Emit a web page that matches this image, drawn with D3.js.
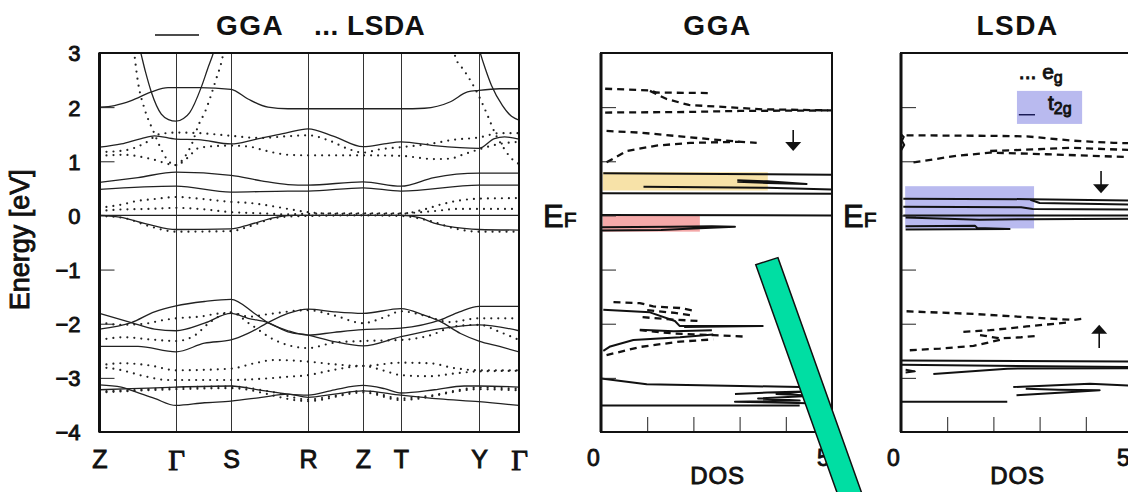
<!DOCTYPE html>
<html>
<head>
<meta charset="utf-8">
<script src="https://cdn.jsdelivr.net/npm/d3@7"></script>
<style>
  body { margin: 0; background: #fff; }
  svg { display: block; font-family: "Liberation Sans", Arial, Helvetica, sans-serif; }
  .frame { fill: none; stroke: #111; stroke-width: 2; }
  .band { fill: none; stroke: #222; stroke-width: 1.3; }
  .lsda { fill: none; stroke: #222; stroke-width: 2.2; stroke-dasharray: 0 7; stroke-linecap: round; }
  .dos-t2g { fill: none; stroke: #111; stroke-width: 2; stroke-linejoin: round; }
  .dos-eg { fill: none; stroke: #111; stroke-width: 2.3; stroke-dasharray: 7 5; }
  .lbl { fill: #111; stroke: #111; stroke-width: 0.9; }
  .ttl { fill: #111; font-weight: bold; letter-spacing: 1.5px; }
</style>
</head>
<body>
<svg id="chart" width="1128" height="492"></svg>
<script>
// k-path (arbitrary path length units) and labels
const kLabels = ["Z", "Γ", "S", "R", "Z", "T", "Y", "Γ"];
const kNodes = [0, 76.5, 131.5, 208.5, 263.5, 301.5, 379.5, 419.5];
const energyTicks = [-4, -3, -2, -1, 0, 1, 2, 3];
const dosTicks = [1, 2, 3, 4];
const dosLabels = [0, 5];

// GGA bands (solid), [k, E]
const ggaBands = [
  [[36,3.35],[40.2,3.08],[46,2.65],[51.8,2.28],[61.8,1.87],[69,1.77],[76.5,1.74],[84,1.79],[90.2,1.9],[101.8,2.37],[108,2.7],[115.2,3.08],[119,3.35]],
  [[377,3.25],[379.5,3.08],[386,2.7],[392,2.4],[403,2.03],[412,1.83],[419.5,1.76]],
  [[0,2.0],[15,2.03],[31.8,2.12],[51.8,2.28],[68.5,2.36],[76.5,2.36],[100,2.36],[131.5,2.33],[148.5,2.15],[168.5,2.0],[188.5,1.97],[208.5,1.97],[263.5,1.97],[301.5,1.97],[325,1.98],[351,2.1],[368,2.28],[379.5,2.31],[400,2.34],[419.5,2.34]],
  [[0,1.26],[21.8,1.32],[41.8,1.42],[55,1.47],[76.5,1.41],[98.5,1.4],[131.5,1.32],[155,1.4],[186,1.52],[208.5,1.6],[234.5,1.46],[263.5,1.27],[284.5,1.32],[301.5,1.36],[334.5,1.29],[379.5,1.24],[395,1.42],[405,1.45],[419.5,1.41]],
  [[0,0.61],[38.5,0.7],[76.5,0.8],[131.5,0.74],[161.8,0.64],[188.5,0.57],[208.5,0.56],[263.5,0.62],[301.5,0.54],[334.5,0.7],[379.5,0.78],[419.5,0.78]],
  [[0,0.48],[76.5,0.54],[131.5,0.43],[188.5,0.45],[208.5,0.45],[263.5,0.51],[301.5,0.45],[379.5,0.56],[419.5,0.56]],
  [[0,0],[419.5,0]],
  [[0,0],[20,-0.03],[50,-0.17],[76.5,-0.26],[131.5,-0.25],[150,-0.17],[175,-0.04],[192,0],[301.5,0],[320,-0.04],[334.5,-0.14],[364.5,-0.24],[379.5,-0.26],[419.5,-0.27]],
  [[0,-1.81],[31.8,-1.98],[55,-2.1],[76.5,-2.13],[105,-1.99],[131.5,-1.81],[148.5,-1.9],[168.5,-1.98],[188.5,-2.15],[208.5,-2.21],[234.5,-2.33],[263.5,-2.41],[301.5,-2.24],[341,-2.09],[379.5,-2.02],[419.5,-2.13]],
  [[0,-2.1],[31.8,-1.98],[55,-1.78],[76.5,-1.67],[105,-1.59],[131.5,-1.55],[155,-1.81],[168.5,-1.98],[188.5,-2.13],[208.5,-2.21],[234.5,-2.16],[263.5,-2.11],[301.5,-2.08],[341,-1.93],[360,-1.78],[379.5,-1.68],[419.5,-1.68]],
  [[0,-2.42],[38.5,-2.42],[76.5,-2.52],[105,-2.36],[131.5,-2.3],[148.5,-2.18],[168.5,-1.98],[188.5,-1.81],[208.5,-1.73],[234.5,-1.78],[263.5,-1.81],[301.5,-1.72],[324.5,-1.84],[341,-1.96],[361,-2.18],[379.5,-2.32],[400,-2.42],[419.5,-2.52]],
  [[0,-3.13],[21.8,-3.17],[31.8,-3.23],[55,-3.38],[76.5,-3.51],[105,-3.46],[131.5,-3.43],[162,-3.36],[188.5,-3.3],[208.5,-3.36],[235,-3.3],[263.5,-3.24],[301.5,-3.32],[340,-3.39],[379.5,-3.44],[419.5,-3.51]],
  [[0,-3.22],[31.8,-3.2],[76.5,-3.17],[131.5,-3.15],[162,-3.23],[188.5,-3.3],[208.5,-3.32],[235,-3.22],[263.5,-3.14],[285,-3.2],[301.5,-3.28],[335,-3.22],[364.5,-3.15],[379.5,-3.15],[419.5,-3.17]]
];

// LSDA bands (dotted), [k, E]
const lsdaBands = [
  [[0,1.17],[25,1.2],[45,1.33],[60,1.5],[76.5,1.53],[100,1.52],[131.5,1.47],[160,1.43],[186,1.46],[208.5,1.48],[230,1.38],[250,1.22],[263.5,1.16],[280,1.22],[301.5,1.26],[330,1.32],[355,1.4],[379.5,1.44],[400,1.52],[419.5,1.52]],
  [[0,1.1],[25,1.12],[50,1.05],[76.5,0.93],[88.5,1.07],[98.5,1.24],[115,1.28],[131.5,1.29],[150,1.27],[165,1.2],[188.5,1.12],[208.5,1.11],[263.5,1.11],[301.5,1.1],[334.5,1.04],[351,1.05],[364.5,1.13],[379.5,1.22],[400,1.32],[419.5,1.36]],
  [[33,3.3],[38.5,2.46],[45,1.97],[54,1.55],[61.8,1.22],[68.5,1.01],[76.5,0.93],[84,1.05],[93,1.35],[98.6,1.65],[105.7,1.92],[111,2.19],[116.5,2.51],[121.9,2.83],[126,3.2]],
  [[352,3.2],[356,2.92],[364.5,2.68],[371,2.49],[379.5,2.2],[388,1.85],[396,1.5],[404,1.25],[412,1.05],[419.5,0.95]],
  [[0,0.14],[21.8,0.2],[38.5,0.27],[53.5,0.3],[76.5,0.34],[105,0.3],[131.5,0.25],[150,0.23],[170,0.18],[188.5,0.12],[208.5,0.06],[240,0.03],[263.5,0.03],[301.5,0.03],[324.5,0.11],[341,0.2],[358,0.27],[379.5,0.31],[419.5,0.32]],
  [[0,0.08],[21.8,0.11],[50,0.12],[76.5,0.14],[100,0.12],[131.5,0.06],[160,0.04],[188.5,0.02],[208.5,0.03],[263.5,0.04],[301.5,0.04],[334.5,0.08],[358,0.12],[379.5,0.12],[419.5,0.12]],
  [[0,-0.01],[25,-0.05],[50,-0.2],[76.5,-0.3],[131.5,-0.29],[150,-0.2],[175,-0.05],[190,-0.02],[208.5,-0.01],[263.5,0],[301.5,-0.01],[330,-0.1],[355,-0.24],[379.5,-0.3],[419.5,-0.3]],
  [[0,-1.97],[20,-2.02],[45,-2.0],[65,-1.93],[76.5,-1.9],[100,-1.87],[120,-1.81],[131.5,-1.8],[150,-1.87],[170,-1.82],[208.5,-1.75],[235,-1.85],[263.5,-1.99],[285,-1.88],[301.5,-1.77],[325,-1.85],[350,-1.97],[379.5,-1.9],[419.5,-1.9]],
  [[0,-2.3],[25,-2.25],[50,-2.29],[76.5,-2.32],[95,-2.22],[110,-1.98],[131.5,-1.79],[150,-2.0],[175,-2.3],[208.5,-2.45],[235,-2.35],[263.5,-2.32],[301.5,-2.3],[330,-2.22],[355,-2.05],[379.5,-2.02],[400,-2.15],[419.5,-2.3]],
  [[0,-2.77],[22,-2.73],[50,-2.77],[76.5,-2.86],[131.5,-2.83],[155,-2.73],[175,-2.67],[208.5,-2.7],[235,-2.75],[263.5,-2.78],[301.5,-2.72],[330,-2.73],[355,-2.82],[379.5,-2.86],[419.5,-2.86]],
  [[0,-2.8],[20,-2.85],[45,-2.97],[68.5,-3.04],[131.5,-3.04],[160,-3.02],[188.5,-2.98],[208.5,-2.95],[235,-2.85],[263.5,-2.78],[285,-2.87],[301.5,-2.95],[330,-2.97],[355,-2.92],[379.5,-2.88],[419.5,-2.87]],
  [[0,-3.25],[30,-3.23],[76.5,-3.18],[131.5,-3.16],[170,-3.25],[208.5,-3.4],[235,-3.33],[263.5,-3.24],[301.5,-3.38],[330,-3.33],[379.5,-3.18],[419.5,-3.2]],
  [[0,-3.27],[76.5,-3.21],[131.5,-3.19],[208.5,-3.43],[263.5,-3.27],[301.5,-3.41],[379.5,-3.21],[419.5,-3.23]]
];

// GGA DOS traces, [dos, E]
const ggaDownEg = [
  [[0.09,2.34],[1.06,2.31],[1.2,2.27],[2.36,2.26]],
  [[1.06,2.3],[1.42,2.15],[1.9,2.04],[2.72,2.0],[3.5,1.96],[5.0,1.94]],
  [[0.09,1.9],[1.8,1.91],[3.0,1.93],[5.0,1.94]],
  [[0.12,1.56],[0.84,1.53],[1.71,1.46],[2.72,1.38],[3.37,1.34]],
  [[0.12,0.98],[0.56,1.19],[1.2,1.29],[1.93,1.34],[3.0,1.36]]
];
const ggaDownT2g = [
  [[0.05,0.78],[3.6,0.76],[5,0.75]],
  [[2.95,0.65],[3.6,0.63],[4.45,0.58],[3.6,0.6],[2.95,0.62]],
  [[0.92,0.53],[3.6,0.51],[5,0.48]],
  [[0,0.41],[5,0.4]],
  [[0,0.01],[5,0.0]],
  [[0,-0.22],[1.5,-0.21],[2.4,-0.2],[2.9,-0.21],[2.0,-0.24],[1.3,-0.27],[0,-0.28]]
];
const ggaUpEg = [
  [[0.27,-1.6],[0.84,-1.62],[1.13,-1.68],[1.71,-1.71],[2.07,-1.77]],
  [[1.0,-1.75],[1.6,-1.8],[2.0,-1.85]],
  [[0.9,-1.88],[1.5,-1.92],[2.1,-1.95]],
  [[0.84,-2.12],[1.57,-2.18],[2.43,-2.21],[3.15,-2.24]],
  [[0.12,-2.58],[0.84,-2.43],[1.71,-2.33],[2.43,-2.29]]
];
const ggaUpT2g = [
  [[0.05,-1.74],[1.06,-1.79],[1.6,-1.95],[1.7,-2.04],[3.5,-2.04],[1.8,-2.06]],
  [[0.84,-2.11],[1.57,-2.14],[2.4,-2.12]],
  [[0.05,-2.5],[0.2,-2.42],[0.7,-2.3],[1.71,-2.25],[2.43,-2.2]],
  [[0,-3.01],[0.99,-3.12],[3.01,-3.15],[4.31,-3.17]],
  [[2.9,-3.3],[3.6,-3.27],[4.4,-3.25],[3.8,-3.3],[4.6,-3.33],[3.4,-3.38],[4.3,-3.42],[2.9,-3.44],[4.5,-3.47]],
  [[0,-3.51],[4.3,-3.51]]
];

// LSDA DOS traces, [dos, E]
const lsdaDownEg = [
  [[0.12,1.48],[1.93,1.47],[2.72,1.46],[3.73,1.38],[4.6,1.34],[5.2,1.33]],
  [[0.27,0.98],[1.2,1.1],[1.93,1.16],[3.15,1.13],[5.2,1.07]],
  [[1.93,1.19],[2.9,1.22],[3.7,1.25],[5.2,1.2]]
];
const lsdaDownT2g = [
  [[0.05,0.31],[2.8,0.3],[5.2,0.27]],
  [[2.8,0.29],[3.0,0.23],[5.2,0.2]],
  [[0.05,0.16],[2.6,0.15],[2.85,0.12],[5.2,0.11]],
  [[0.05,0.0],[5.2,0.0]],
  [[0.1,-0.04],[1.7,-0.08],[2.8,-0.07],[5.2,-0.06]],
  [[0.1,-0.2],[1.6,-0.19],[1.65,-0.23],[2.35,-0.25],[0.1,-0.26]],
  [[0,1.5],[0.06,1.45],[0.02,1.38],[0.07,1.3],[0,1.2]]
];
const lsdaUpEg = [
  [[0.12,-1.77],[1.57,-1.82],[2.72,-1.88],[3.73,-1.93],[4.0,-1.9]],
  [[1.35,-2.15],[1.93,-2.12],[2.72,-2.05],[3.59,-1.98]],
  [[1.71,-2.21],[2.14,-2.27],[2.6,-2.25],[3.0,-2.22]],
  [[0.19,-2.49],[0.84,-2.46],[1.57,-2.41],[2.14,-2.3]]
];
const lsdaUpT2g = [
  [[0,-2.68],[5.2,-2.7]],
  [[0,-2.76],[5.2,-2.8]],
  [[0.1,-2.85],[0.3,-2.88],[0.1,-2.9]],
  [[0.7,-2.93],[2.3,-2.83],[5.2,-2.82]],
  [[2.43,-3.17],[4.09,-3.11],[5.2,-3.15]],
  [[2.5,-3.32],[3.7,-3.26],[4.3,-3.23],[3.4,-3.22],[2.7,-3.2]],
  [[0,-3.44],[2.3,-3.44]]
];

// annotations, in DOS / energy units
const spinArrows = [
  { panel: "gga", dos: 4.16, from: 1.58, to: 1.19 },
  { panel: "lsda", dos: 4.33, from: 0.82, to: 0.41 },
  { panel: "lsda", dos: 4.29, from: -2.45, to: -2.02 }
];
const highlights = [
  { panel: "gga", dos: [0.04, 3.61], e: [0.46, 0.8], color: "#f2cf6e", op: 0.6 },
  { panel: "gga", dos: [0.04, 2.14], e: [-0.3, 0.02], color: "#ef7b7b", op: 0.65 },
  { panel: "lsda", dos: [0.09, 2.88], e: [-0.24, 0.54], color: "#7f82e2", op: 0.55 },
  { panel: "lsda", dos: [2.51, 3.92], e: [1.69, 2.3], color: "#7f82e2", op: 0.55 }
];
const greenBar = [[3.35, -0.91], [3.83, -0.78], [5.84, -5.6], [5.31, -5.6]];

const svg = d3.select("#chart");

const k = d3.scaleLinear().domain([0, 419.5]).range([99.5, 519]);
const y = d3.scaleLinear().domain([-4, 3]).range([432, 53]);
const xDos = {
  gga: d3.scaleLinear().domain([0, 5]).range([601, 832]),
  lsda: d3.scaleLinear().domain([0, 5]).range([901, 1132])
};

const defs = svg.append("defs");
defs.append("clipPath").attr("id", "clipBand").append("rect")
  .attr("x", k(0)).attr("y", y(3)).attr("width", k(419.5) - k(0)).attr("height", y(-4) - y(3));
["gga", "lsda"].forEach(p => {
  defs.append("clipPath").attr("id", "clip-" + p).append("rect")
    .attr("x", xDos[p](0)).attr("y", y(3)).attr("width", xDos[p](5) - xDos[p](0)).attr("height", y(-4) - y(3));
});

// ---- band structure panel ----
const bandG = svg.append("g");

// vertical lines at high-symmetry points
bandG.append("g")
  .attr("transform", `translate(0,${y(-4)})`)
  .call(d3.axisBottom(k).tickValues(kNodes.slice(1, -1)).tickSize(-(y(-4) - y(3))).tickFormat(""))
  .call(g => g.select(".domain").remove())
  .call(g => g.selectAll("line").attr("stroke", "#333").attr("stroke-width", 1));

// k labels
bandG.append("g")
  .attr("transform", `translate(0,${y(-4)})`)
  .call(d3.axisBottom(k).tickValues(kNodes).tickSize(0).tickPadding(18).tickFormat((d, i) => kLabels[i]))
  .call(g => g.select(".domain").remove())
  .call(g => g.selectAll("text")
    .attr("class", "lbl")
    .attr("font-family", (d, i) => kLabels[i] === "Γ" ? "'Liberation Serif', 'DejaVu Serif', serif" : null)
    .attr("font-size", (d, i) => kLabels[i] === "Γ" ? 29 : 25)
    .attr("dy", (d, i) => kLabels[i] === "Γ" ? "0.68em" : "0.71em"));

// energy ticks inside + labels
bandG.append("g")
  .attr("transform", `translate(${k(0)},0)`)
  .call(d3.axisRight(y).tickValues(energyTicks).tickSize(15).tickFormat(""))
  .call(g => g.select(".domain").remove())
  .call(g => g.selectAll("line").attr("stroke", "#222").attr("stroke-width", 1));
bandG.append("g")
  .attr("transform", `translate(${k(0)},0)`)
  .call(d3.axisLeft(y).tickValues(energyTicks).tickSize(0).tickPadding(19).tickFormat(d3.format("d")))
  .call(g => g.select(".domain").remove())
  .call(g => g.selectAll("text").attr("class", "lbl").attr("font-size", 22).attr("dy", "0.36em"));

svg.append("text")
  .attr("class", "lbl")
  .attr("transform", `translate(29,${y(-0.45)}) rotate(-90)`)
  .attr("text-anchor", "middle")
  .attr("font-size", 27)
  .attr("stroke-width", 0.5)
  .text("Energy [eV]");

const bandLine = d3.line().x(d => k(d[0])).y(d => y(d[1])).curve(d3.curveMonotoneX);
const bandsClip = bandG.append("g").attr("clip-path", "url(#clipBand)");
bandsClip.selectAll("path.band").data(ggaBands).join("path").attr("class", "band").attr("d", bandLine);
bandsClip.selectAll("path.lsda").data(lsdaBands).join("path").attr("class", "lsda").attr("d", bandLine);

bandG.append("rect").attr("class", "frame")
  .attr("x", k(0)).attr("y", y(3)).attr("width", k(419.5) - k(0)).attr("height", y(-4) - y(3));
bandG.append("line").attr("x1", k(0)).attr("x2", k(0)).attr("y1", y(3)).attr("y2", y(-4))
  .attr("stroke", "#111").attr("stroke-width", 3);

// top legend
const legend = svg.append("g").attr("class", "ttl").attr("font-size", 28);
legend.append("line").attr("x1", 155).attr("x2", 199).attr("y1", 35).attr("y2", 35)
  .attr("stroke", "#111").attr("stroke-width", 1.5);
legend.append("text").attr("x", 216).attr("y", 35).text("GGA");
legend.append("text").attr("x", 314).attr("y", 35).attr("letter-spacing", 0.5).text("... LSDA");

// ---- DOS panels ----
function dosPanel(p, title, traces) {
  const x = xDos[p];
  const g = svg.append("g");
  const line = d3.line().x(d => x(d[0])).y(d => y(d[1]));

  // highlight boxes under the curves
  g.selectAll("rect.hl").data(highlights.filter(h => h.panel === p)).join("rect")
    .attr("x", h => x(h.dos[0])).attr("y", h => y(h.e[1]))
    .attr("width", h => x(h.dos[1]) - x(h.dos[0])).attr("height", h => y(h.e[0]) - y(h.e[1]))
    .attr("fill", h => h.color).attr("opacity", h => h.op);

  const c = g.append("g").attr("clip-path", `url(#clip-${p})`);
  c.selectAll("path.dos-eg").data(traces.eg).join("path").attr("class", "dos-eg").attr("d", line);
  c.selectAll("path.dos-t2g").data(traces.t2g).join("path").attr("class", "dos-t2g").attr("d", line);

  // axes: inner ticks
  g.append("g").attr("transform", `translate(${x(0)},0)`)
    .call(d3.axisRight(y).tickValues(energyTicks).tickSize(15).tickFormat(""))
    .call(s => s.select(".domain").remove())
    .call(s => s.selectAll("line").attr("stroke", "#222").attr("stroke-width", 1));
  g.append("g").attr("transform", `translate(0,${y(-4)})`)
    .call(d3.axisTop(x).tickValues(dosTicks).tickSize(15).tickFormat(""))
    .call(s => s.select(".domain").remove())
    .call(s => s.selectAll("line").attr("stroke", "#222").attr("stroke-width", 1));
  g.append("g").attr("transform", `translate(0,${y(-4)})`)
    .call(d3.axisBottom(x).tickValues(dosLabels).tickSize(0).tickPadding(18).tickFormat(d3.format("d")))
    .call(s => s.select(".domain").remove())
    .call(s => s.selectAll("text").attr("class", "lbl").attr("font-size", 23).attr("dx", d => d === 0 ? -8 : -9));

  g.append("rect").attr("class", "frame")
    .attr("x", x(0)).attr("y", y(3)).attr("width", x(5) - x(0)).attr("height", y(-4) - y(3));
  g.append("line").attr("x1", x(0)).attr("x2", x(0)).attr("y1", y(3)).attr("y2", y(-4))
    .attr("stroke", "#111").attr("stroke-width", 3);

  g.append("text").attr("class", "ttl").attr("x", x(2.5) + 1).attr("y", 35)
    .attr("text-anchor", "middle").attr("font-size", 28).text(title);
  g.append("text").attr("class", "lbl").attr("x", x(2.5) + 1).attr("y", 484)
    .attr("text-anchor", "middle").attr("font-size", 24).attr("letter-spacing", 0.8)
    .attr("stroke-width", 0.7).text("DOS");

  const ef = g.append("text").attr("class", "lbl").attr("x", x(0) - 58).attr("y", y(0) + 12)
    .attr("font-size", 31).attr("stroke-width", 0.2);
  ef.append("tspan").text("E");
  ef.append("tspan").attr("font-size", 21).text("F");

  // spin arrows
  spinArrows.filter(a => a.panel === p).forEach(a => {
    const dir = a.to < a.from ? 1 : -1;   // 1 = downwards on screen
    const tipY = y(a.to), tailY = y(a.from);
    g.append("line").attr("x1", x(a.dos)).attr("x2", x(a.dos)).attr("y1", tailY).attr("y2", tipY - dir * 6)
      .attr("stroke", "#111").attr("stroke-width", 1.6);
    g.append("path")
      .attr("d", `M${x(a.dos) - 8},${tipY - dir * 9} L${x(a.dos) + 8},${tipY - dir * 9} L${x(a.dos)},${tipY} Z`)
      .attr("fill", "#111");
  });
  return g;
}

dosPanel("gga", "GGA", {
  eg: ggaDownEg.concat(ggaUpEg),
  t2g: ggaDownT2g.concat(ggaUpT2g)
});
const lsdaG = dosPanel("lsda", "LSDA", {
  eg: lsdaDownEg.concat(lsdaUpEg),
  t2g: lsdaDownT2g.concat(lsdaUpT2g)
});

// orbital legend in LSDA panel
const xl = xDos.lsda;
const eg = lsdaG.append("text").attr("class", "lbl").attr("x", xl(2.55)).attr("y", y(2.52)).attr("font-size", 21)
  .attr("stroke-width", 0.5);
eg.append("tspan").text("... e");
eg.append("tspan").attr("font-size", 16).attr("dy", 4).text("g");
lsdaG.append("line").attr("x1", xl(2.55)).attr("x2", xl(2.9)).attr("y1", y(1.86)).attr("y2", y(1.86))
  .attr("stroke", "#1a1a55").attr("stroke-width", 1.5);
const t2 = lsdaG.append("text").attr("class", "lbl").attr("x", xl(3.18)).attr("y", y(1.95)).attr("font-size", 21)
  .attr("fill", "#1a1a55").attr("stroke", "#1a1a55").attr("stroke-width", 0.5);
t2.append("tspan").text("t");
t2.append("tspan").attr("font-size", 16).attr("dy", 4).text("2g");

// green bar overlay
svg.append("path")
  .attr("d", d3.line().x(d => xDos.gga(d[0])).y(d => y(d[1]))(greenBar) + "Z")
  .attr("fill", "#00dea3").attr("stroke", "#111").attr("stroke-width", 1.5);
</script>
</body>
</html>
